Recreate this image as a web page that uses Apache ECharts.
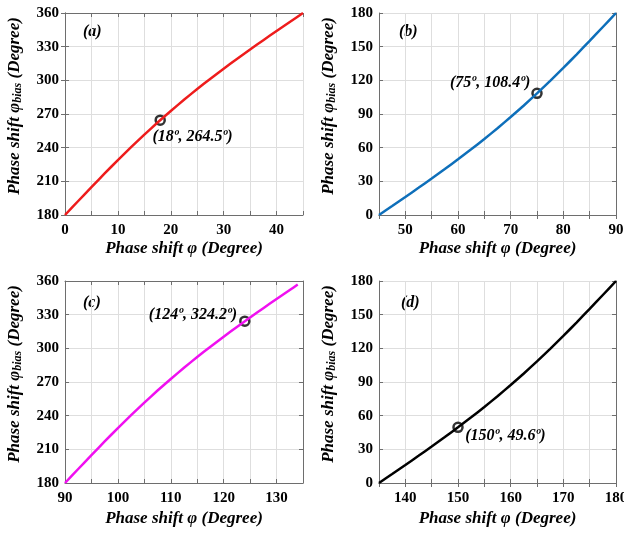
<!DOCTYPE html>
<html>
<head>
    <meta charset="utf-8">
    <title>Phase shift vs bias phase</title>
    <script src="https://cdn.jsdelivr.net/npm/echarts@6/dist/echarts.min.js"></script>
    <style>
        html, body { margin: 0; padding: 0; background: #fff; }
        #main { width: 624px; height: 535px; }
    </style>
</head>
<body>
<div id="main"></div>
<script>
    // values
    var phiA = [0, 2.5, 5, 7.5, 10, 12.5, 15, 17.5, 20, 22.5, 25, 27.5, 30, 32.5, 35, 37.5, 40, 42.5, 45];
    var biasA = [180, 192.48, 204.86, 217.04, 228.93, 240.47, 251.63, 262.39, 272.73, 282.68, 292.25,
        301.48, 310.42, 319.09, 327.53, 335.80, 343.94, 351.99, 360];

    var phiB = [45, 47.5, 50, 52.5, 55, 57.5, 60, 62.5, 65, 67.5, 70, 72.5, 75, 77.5, 80, 82.5, 85, 87.5, 90];
    var biasB = [0, 8.01, 16.06, 24.20, 32.47, 40.91, 49.58, 58.52, 67.75, 77.32, 87.27,
        97.61, 108.37, 119.53, 131.07, 142.96, 155.14, 167.52, 180];

    var phiC = [90, 92.5, 95, 97.5, 100, 102.5, 105, 107.5, 110, 112.5, 115, 117.5, 120, 122.5, 125, 127.5, 130, 132.5, 134];
    var biasC = [180, 192.48, 204.86, 217.04, 228.93, 240.47, 251.63, 262.39, 272.73, 282.68, 292.25,
        301.48, 310.42, 319.09, 327.53, 335.80, 343.94, 351.99, 356.80];

    var phiD = [135, 137.5, 140, 142.5, 145, 147.5, 150, 152.5, 155, 157.5, 160, 162.5, 165, 167.5, 170, 172.5, 175, 177.5, 180];
    var biasD = [0, 8.01, 16.06, 24.20, 32.47, 40.91, 49.58, 58.52, 67.75, 77.32, 87.27,
        97.61, 108.37, 119.53, 131.07, 142.96, 155.14, 167.52, 180];

    var markA = [18, 264.5], markB = [75, 108.4], markC = [124, 324.2], markD = [150, 49.6];
    var markText = ['(18º, 264.5º)', '(75º, 108.4º)', '(124º, 324.2º)', '(150º, 49.6º)'];
    var panelText = ['(a)', '(b)', '(c)', '(d)'];

    var xRange = [[0, 45], [45, 90], [90, 135], [135, 180]];
    var yRange = [[180, 360], [0, 180], [180, 360], [0, 180]];

    var FONT = '"Liberation Serif", "Times New Roman", serif';
    var boxColor = '#6e6e6e';
    var gridColor = '#dedede';

    var grids = [
        {left: 65, top: 13, width: 238, height: 202, outerBoundsMode: 'none'},
        {left: 379, top: 13, width: 237, height: 202, outerBoundsMode: 'none'},
        {left: 65, top: 281, width: 238, height: 202, outerBoundsMode: 'none'},
        {left: 379, top: 281, width: 237, height: 202, outerBoundsMode: 'none'}
    ];

    var xAxes = [], yAxes = [];
    for (var i = 0; i < 4; i++) {
        xAxes.push({
            type: 'value', gridIndex: i, min: xRange[i][0], max: xRange[i][1], interval: 5,
            name: 'Phase shift φ (Degree)', nameLocation: 'middle', nameGap: i < 2 ? 25 : 27,
            nameTextStyle: {fontFamily: FONT, fontSize: 17, fontWeight: 'bold', fontStyle: 'italic', color: '#000'},
            axisLine: {show: true, lineStyle: {color: boxColor, width: 1}},
            axisTick: {show: true, inside: true, length: 4, lineStyle: {color: boxColor}},
            axisLabel: {
                margin: 8, fontFamily: FONT, fontSize: 15, fontWeight: 'bold', color: '#000',
                showMinLabel: true, showMaxLabel: true, hideOverlap: false,
                formatter: function (v) { return v % 10 === 0 ? v : ''; }
            },
            splitLine: {show: true, lineStyle: {color: gridColor, width: 1}}
        });
        xAxes.push({
            type: 'value', gridIndex: i, position: 'top', min: xRange[i][0], max: xRange[i][1], interval: 5,
            axisLine: {show: true, lineStyle: {color: boxColor, width: 1}},
            axisTick: {show: true, inside: true, length: 4, lineStyle: {color: boxColor}},
            axisLabel: {show: false}, splitLine: {show: false}
        });
        yAxes.push({
            type: 'value', gridIndex: i, min: yRange[i][0], max: yRange[i][1], interval: 30,
            name: 'Phase shift φ{sub|bias} (Degree)', nameLocation: 'middle', nameGap: 41, nameRotate: 90,
            nameTextStyle: {
                fontFamily: FONT, fontSize: 17, fontWeight: 'bold', fontStyle: 'italic', color: '#000',
                padding: [0, 0, 0, 16],
                rich: {
                    sub: {fontFamily: FONT, fontSize: 12, fontWeight: 'bold', fontStyle: 'italic',
                        color: '#000', verticalAlign: 'bottom', padding: [6, 0, 0, 0]}
                }
            },
            axisLine: {show: true, lineStyle: {color: boxColor, width: 1}},
            axisTick: {show: true, inside: true, length: 4, lineStyle: {color: boxColor}},
            axisLabel: {margin: 6, fontFamily: FONT, fontSize: 15, fontWeight: 'bold', color: '#000'},
            splitLine: {show: true, lineStyle: {color: gridColor, width: 1}}
        });
        yAxes.push({
            type: 'value', gridIndex: i, position: 'right', min: yRange[i][0], max: yRange[i][1], interval: 30,
            axisLine: {show: true, lineStyle: {color: boxColor, width: 1}},
            axisTick: {show: true, inside: true, length: 4, lineStyle: {color: boxColor}},
            axisLabel: {show: false}, splitLine: {show: false}
        });
    }

    function zip(xs, ys) {
        var out = [];
        for (var k = 0; k < xs.length; k++) out.push([xs[k], ys[k]]);
        return out;
    }

    var curves = [zip(phiA, biasA), zip(phiB, biasB), zip(phiC, biasC), zip(phiD, biasD)];
    var colors = ['#ee1c1c', '#0e6fba', '#f010f0', '#000000'];
    var marks = [markA, markB, markC, markD];
    // label anchor relative to the marker box, and which side the text hangs from
    var labelPos = [[-2, 22, 'left'], [-1, -5, 'right'], [-2, -1, 'right'], [13, 14, 'left']];

    var series = [];
    for (var j = 0; j < 4; j++) {
        series.push({
            type: 'line', xAxisIndex: j * 2, yAxisIndex: j * 2, data: curves[j],
            showSymbol: false, smooth: 0.2, silent: true,
            lineStyle: {color: colors[j], width: 2.5}
        });
        series.push({
            type: 'scatter', xAxisIndex: j * 2, yAxisIndex: j * 2, data: [marks[j]],
            symbol: 'circle', symbolSize: 9, silent: true,
            itemStyle: {color: '#fff', borderColor: '#000', borderWidth: 2.5},
            label: {
                show: true, formatter: markText[j],
                position: [labelPos[j][0], labelPos[j][1]], align: labelPos[j][2], verticalAlign: 'middle',
                fontFamily: FONT, fontSize: 16, fontWeight: 'bold', fontStyle: 'italic', color: '#000',
                textBorderWidth: 0, opacity: 1
            }
        });
    }

    var graphics = [];
    var panelPos = [[83, 33], [399, 33], [83, 304], [401, 304]];
    for (var p = 0; p < 4; p++) {
        graphics.push({
            type: 'text', left: panelPos[p][0], top: panelPos[p][1] - 9,
            style: {text: panelText[p], font: 'italic bold 16px ' + FONT, fill: '#000'}
        });
    }

    var chart = echarts.init(document.getElementById('main'));
    chart.setOption({
        animation: false,
        backgroundColor: '#fff',
        grid: grids,
        xAxis: xAxes,
        yAxis: yAxes,
        series: series,
        graphic: graphics
    });
</script>
</body>
</html>
